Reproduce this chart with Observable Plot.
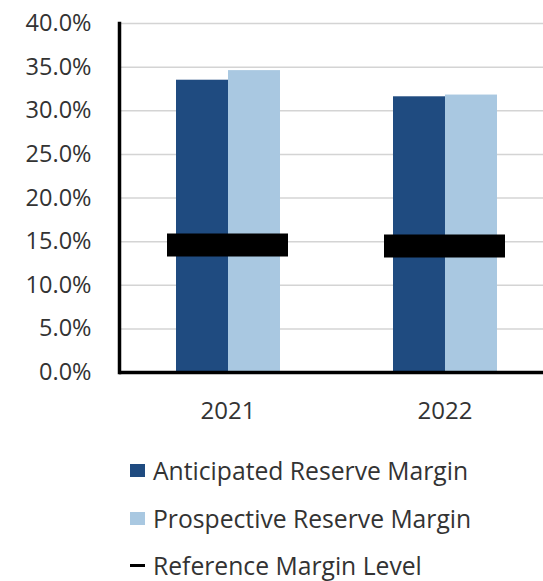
<!DOCTYPE html>
<html>
<head>
<meta charset="utf-8">
<script src="https://cdn.jsdelivr.net/npm/d3@7"></script>
<script src="https://cdn.jsdelivr.net/npm/@observablehq/plot@0.6"></script>
<style>
  html, body { margin: 0; padding: 0; background: #fff; overflow: hidden; }
  #chart svg { display: block; }
  .legend { font-family: "Open Sans", sans-serif; font-size: 24.7px; color: #333; padding-left: 130px; margin-top: 17px; }
  .legend .row { height: 47.5px; display: flex; align-items: center; white-space: nowrap; }
  .legend .sw { width: 15px; height: 13px; margin-right: 8px; flex: none; }
  .legend .dash { width: 15px; height: 3px; margin-right: 8px; background: #000; flex: none; }
</style>
</head>
<body>
<div id="chart"></div>
<div class="legend" id="legend"></div>
<script>
const years = ["2021", "2022"];
const series = ["Anticipated Reserve Margin", "Prospective Reserve Margin"];
const anticipated = [33.5, 31.6];
const prospective = [34.6, 31.8];
const referenceLevel = [14.6, 14.5];
const referenceLabel = "Reference Margin Level";
const yTicks = [0, 5, 10, 15, 20, 25, 30, 35, 40];
const colors = ["#1f4b80", "#a9c8e1"];

const bars = years.flatMap((year, i) => [
  {year, series: series[0], value: anticipated[i]},
  {year, series: series[1], value: prospective[i]}
]);
const refs = years.map((year, i) => ({year, value: referenceLevel[i]}));

const plot = Plot.plot({
  width: 543,
  height: 430,
  marginLeft: 119,
  marginRight: -10,
  marginTop: 23,
  marginBottom: 58,
  style: {fontFamily: "Open Sans, sans-serif", fontSize: "23px", color: "#333", background: "#fff", overflow: "hidden"},
  fx: {domain: years, padding: 0, label: null, axis: null},
  x: {domain: series, paddingInner: 0, paddingOuter: 1.08, axis: null},
  y: {domain: [0, 40], axis: null},
  color: {domain: series, range: colors},
  marks: [
    Plot.gridY(yTicks, {stroke: "#d4d4d4", strokeOpacity: 1, strokeWidth: 1.5}),
    Plot.axisY(yTicks, {tickSize: 0, tickPadding: 28, tickFormat: d => d.toFixed(1) + "%", fontSize: 23.5, label: null}),
    Plot.axisFx({anchor: "bottom", tickSize: 0, tickPadding: 29, fontSize: 24, label: null}),
    Plot.barY(bars, {fx: "year", x: "series", y: "value", fill: "series"}),
    Plot.tickY(refs, {fx: "year", y: "value", stroke: "#000", strokeWidth: 23, insetLeft: 48, insetRight: 48}),
    Plot.ruleY([0], {stroke: "#000", strokeWidth: 3.5}),
    Plot.frame({anchor: "left", facetAnchor: "left", stroke: "#000", strokeWidth: 3.5})
  ]
});
document.getElementById("chart").appendChild(plot);

const legend = document.getElementById("legend");
series.forEach((s, i) => {
  const row = document.createElement("div");
  row.className = "row";
  const sw = document.createElement("span");
  sw.className = "sw";
  sw.style.background = colors[i];
  row.appendChild(sw);
  row.appendChild(document.createTextNode(s));
  legend.appendChild(row);
});
const r = document.createElement("div");
r.className = "row";
const d = document.createElement("span");
d.className = "dash";
r.appendChild(d);
r.appendChild(document.createTextNode(referenceLabel));
legend.appendChild(r);
</script>
</body>
</html>
